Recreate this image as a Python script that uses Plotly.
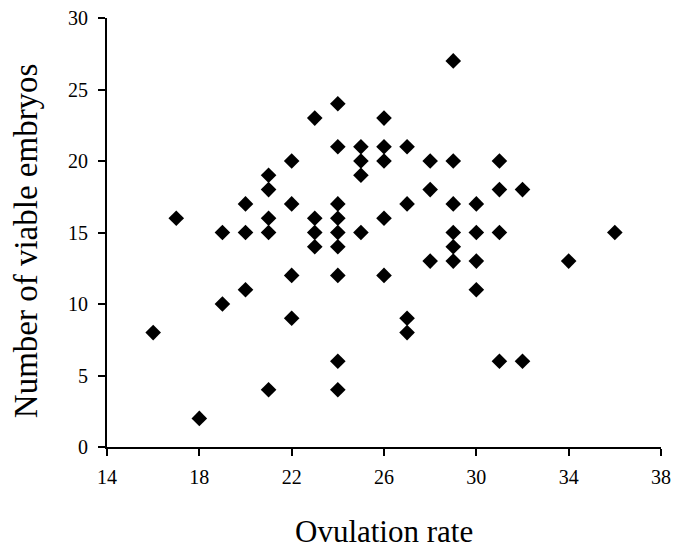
import plotly.graph_objects as go

# ovulation rate (x) and number of viable embryos (y)
ovulation_rate = [
    16, 17, 18, 19, 19, 20, 20, 20, 21, 21, 21, 21, 21,
    22, 22, 22, 22, 23, 23, 23, 23,
    24, 24, 24, 24, 24, 24, 24, 24, 24,
    25, 25, 25, 25, 26, 26, 26, 26, 26,
    27, 27, 27, 27, 28, 28, 28,
    29, 29, 29, 29, 29, 29, 30, 30, 30, 30,
    31, 31, 31, 31, 32, 32, 34, 36,
]
viable_embryos = [
    8, 16, 2, 15, 10, 17, 15, 11, 19, 18, 16, 15, 4,
    20, 17, 12, 9, 23, 16, 15, 14,
    24, 21, 17, 16, 15, 14, 12, 6, 4,
    21, 20, 19, 15, 23, 21, 20, 16, 12,
    21, 17, 9, 8, 20, 18, 13,
    27, 20, 17, 15, 14, 13, 17, 15, 13, 11,
    20, 18, 15, 6, 18, 6, 13, 15,
]

x_ticks = [14, 18, 22, 26, 30, 34, 38]
y_ticks = [0, 5, 10, 15, 20, 25, 30]

serif = "Liberation Serif"

fig = go.Figure(go.Scatter(
    x=ovulation_rate,
    y=viable_embryos,
    mode="markers",
    marker=dict(symbol="diamond", size=12, color="black"),
    cliponaxis=False,
))

fig.update_layout(
    width=676, height=555,
    margin=dict(l=107, r=15, t=18, b=108),
    paper_bgcolor="white", plot_bgcolor="white",
    showlegend=False,
    font=dict(family=serif, size=20, color="black"),
)

axis_style = dict(
    showgrid=False, zeroline=False, automargin=False,
    showline=True, linecolor="black", linewidth=2,
    ticks="outside", ticklen=7, tickwidth=2, tickcolor="black",
    tickfont=dict(family=serif, size=20, color="black"),
)
fig.update_xaxes(range=[14, 38], tickvals=x_ticks, ticklabelstandoff=4, **axis_style)
fig.update_yaxes(range=[0, 30], tickvals=y_ticks, ticklabelstandoff=6, **axis_style)

# axis titles as paper annotations so they sit where the reference has them
fig.add_annotation(
    text="Ovulation rate", xref="paper", yref="paper",
    x=0.5, y=-0.198, xanchor="center", yanchor="middle",
    showarrow=False, font=dict(family=serif, size=31),
)
fig.add_annotation(
    text="Number of viable embryos", xref="paper", yref="paper",
    x=-0.146, y=0.48, xanchor="center", yanchor="middle", textangle=-90,
    showarrow=False, font=dict(family=serif, size=33),
)

# the page body has a default 8px margin; drop it so the chart sits at 0,0
fig.write_html(
    "out.html",
    config={"displayModeBar": False},
    post_script="document.body.style.margin='0';",
)
